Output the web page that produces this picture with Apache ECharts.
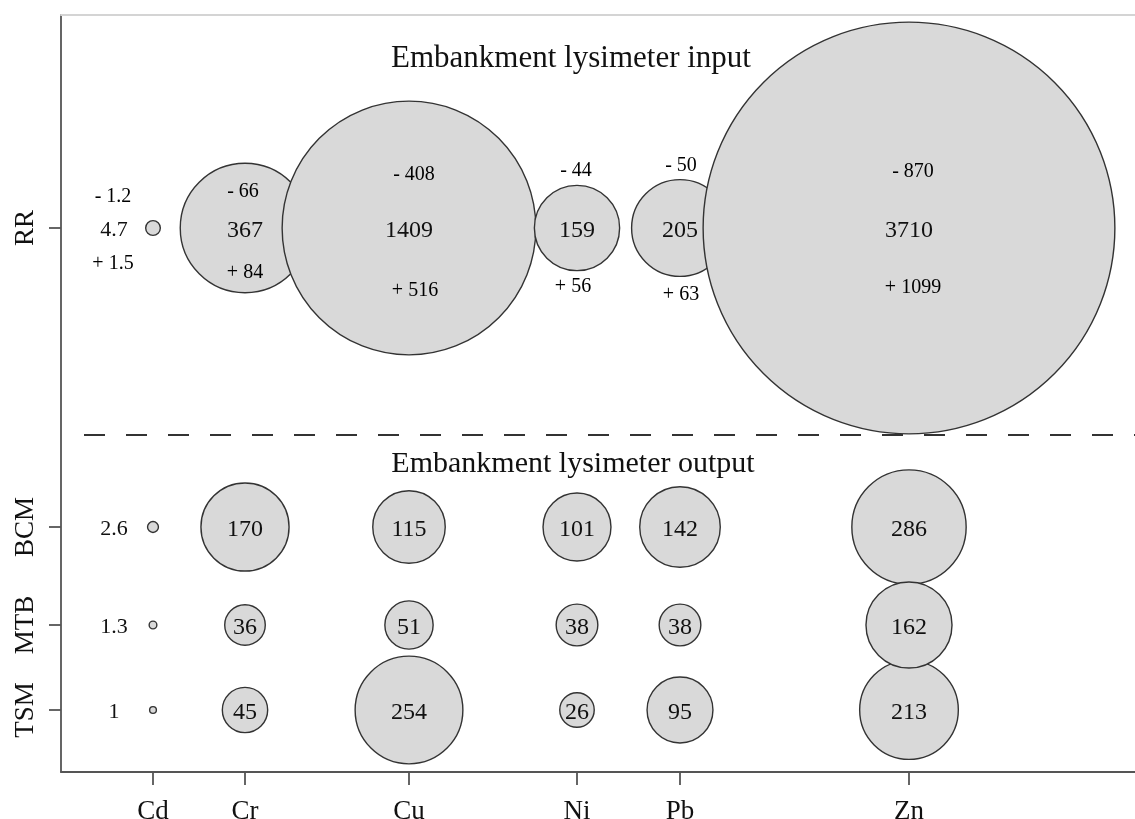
<!DOCTYPE html>
<html><head><meta charset="utf-8">
<script src="https://cdn.jsdelivr.net/npm/echarts@6/dist/echarts.min.js"></script>
<style>html,body{margin:0;padding:0;background:#fff}#c{width:1135px;height:819px}</style>
</head><body><div id="c"></div>
<script>
// ---- data ----
const elements = ['Cd', 'Cr', 'Cu', 'Ni', 'Pb', 'Zn'];
const elementX = [92, 184, 348, 516, 619, 848];          // horizontal axis positions of the elements
const rows = ['RR', 'BCM', 'MTB', 'TSM'];
const rowY = [544, 245, 147, 62];                         // vertical axis positions of the rows
const rrValues = [4.7, 367, 1409, 159, 205, 3710];
const rrMinus = [1.2, 66, 408, 44, 50, 870];
const rrPlus = [1.5, 84, 516, 56, 63, 1099];
const bcmValues = [2.6, 170, 115, 101, 142, 286];
const mtbValues = [1.3, 36, 51, 38, 38, 162];
const tsmValues = [1, 45, 254, 26, 95, 213];
const sectionTitles = ['Embankment lysimeter input', 'Embankment lysimeter output'];
const dividerY = 337;

// ---- layout (label offsets, px) ----
const minusOffset = [[-40, -31], [-2, -36], [5, -53], [-1, -57], [1, -62], [4, -56]];
const plusOffset = [[-40, 36], [0, 45], [6, 63], [-4, 59], [1, 67], [4, 60]];
const centerOffset = [0, 3];
const cdLabelOffset = [-39, 2];

const FONT = "'Liberation Serif','Times New Roman',serif";
const TXT = '#111';
const AX = '#555';
const sizeOf = d => 6.76 * Math.sqrt(d[2]);

function bubbleData(values, rowIdx) {
  return values.map((v, i) => {
    const item = { value: [elementX[i], rowY[rowIdx], v] };
    if (i === 0) item.label = { offset: cdLabelOffset, fontSize: 22 };
    return item;
  });
}
function bubbleSeries(name, values, rowIdx) {
  return {
    name, type: 'scatter', data: bubbleData(values, rowIdx),
    symbol: 'circle', symbolSize: sizeOf,
    itemStyle: { color: '#d9d9d9', borderColor: '#333', borderWidth: 1.4, opacity: 1 },
    label: { show: true, position: 'inside', offset: centerOffset, formatter: p => String(p.value[2]),
             fontFamily: FONT, fontSize: 24, color: TXT },
    emphasis: { disabled: true }, silent: true
  };
}
function textSeries(name, values, offsets, prefix) {
  return {
    name, type: 'scatter', symbolSize: 0, silent: true, z: 5,
    itemStyle: { opacity: 1 },
    data: values.map((v, i) => ({ value: [elementX[i], rowY[0], v], label: { offset: offsets[i] } })),
    label: { show: true, position: 'inside', formatter: p => prefix + p.value[2],
             fontFamily: FONT, fontSize: 20, color: '#000', opacity: 1 },
    emphasis: { disabled: true }
  };
}

const chart = echarts.init(document.getElementById('c'), null, { renderer: 'canvas' });
chart.setOption({
  animation: false,
  backgroundColor: '#fff',
  grid: { left: 61, right: 0, top: 15, bottom: 47, containLabel: false, outerBoundsMode: 'none' },
  xAxis: [{
    type: 'value', min: 0, max: 1074, position: 'bottom',
    splitLine: { show: false },
    axisLine: { show: true, onZero: false, lineStyle: { color: AX, width: 1.8 } },
    axisTick: { show: true, customValues: elementX, length: 13, lineStyle: { color: AX, width: 1.8 } },
    axisLabel: { show: true, customValues: elementX, formatter: v => elements[elementX.indexOf(v)] || '',
                 margin: 26, fontSize: 27, fontFamily: FONT, color: TXT, hideOverlap: false }
  }, {
    type: 'value', min: 0, max: 1074, position: 'top',
    splitLine: { show: false }, axisTick: { show: false }, axisLabel: { show: false },
    axisLine: { show: true, onZero: false, lineStyle: { color: '#d4d4d4', width: 2 } }
  }],
  yAxis: {
    type: 'value', min: 0, max: 757,
    splitLine: { show: false },
    axisLine: { show: true, onZero: false, lineStyle: { color: AX, width: 1.8 } },
    axisTick: { show: true, customValues: rowY, length: 12, lineStyle: { color: AX, width: 1.8 } },
    axisLabel: { show: true, customValues: rowY, formatter: v => rows[rowY.indexOf(v)] || '',
                 rotate: 90, margin: 22, fontSize: 27, fontFamily: FONT, color: TXT, hideOverlap: false }
  },
  graphic: [
    { type: 'text', x: 571, y: 59, silent: true,
      style: { text: sectionTitles[0], font: '31px ' + FONT, fill: TXT,
               align: 'center', verticalAlign: 'middle', textAlign: 'center', textVerticalAlign: 'middle' } },
    { type: 'text', x: 573, y: 464, silent: true,
      style: { text: sectionTitles[1], font: '30px ' + FONT, fill: TXT,
               align: 'center', verticalAlign: 'middle', textAlign: 'center', textVerticalAlign: 'middle' } }
  ],
  series: [
    { name: 'divider', type: 'line', data: [[23, dividerY], [1074, dividerY]], symbol: 'none', silent: true,
      lineStyle: { type: [21, 21], color: '#333', width: 2 }, emphasis: { disabled: true } },
    bubbleSeries('RR', rrValues, 0),
    bubbleSeries('BCM', bcmValues, 1),
    bubbleSeries('TSM', tsmValues, 3),
    bubbleSeries('MTB', mtbValues, 2),
    textSeries('RR minus', rrMinus, minusOffset, '- '),
    textSeries('RR plus', rrPlus, plusOffset, '+ ')
  ]
});
</script>
</body></html>
